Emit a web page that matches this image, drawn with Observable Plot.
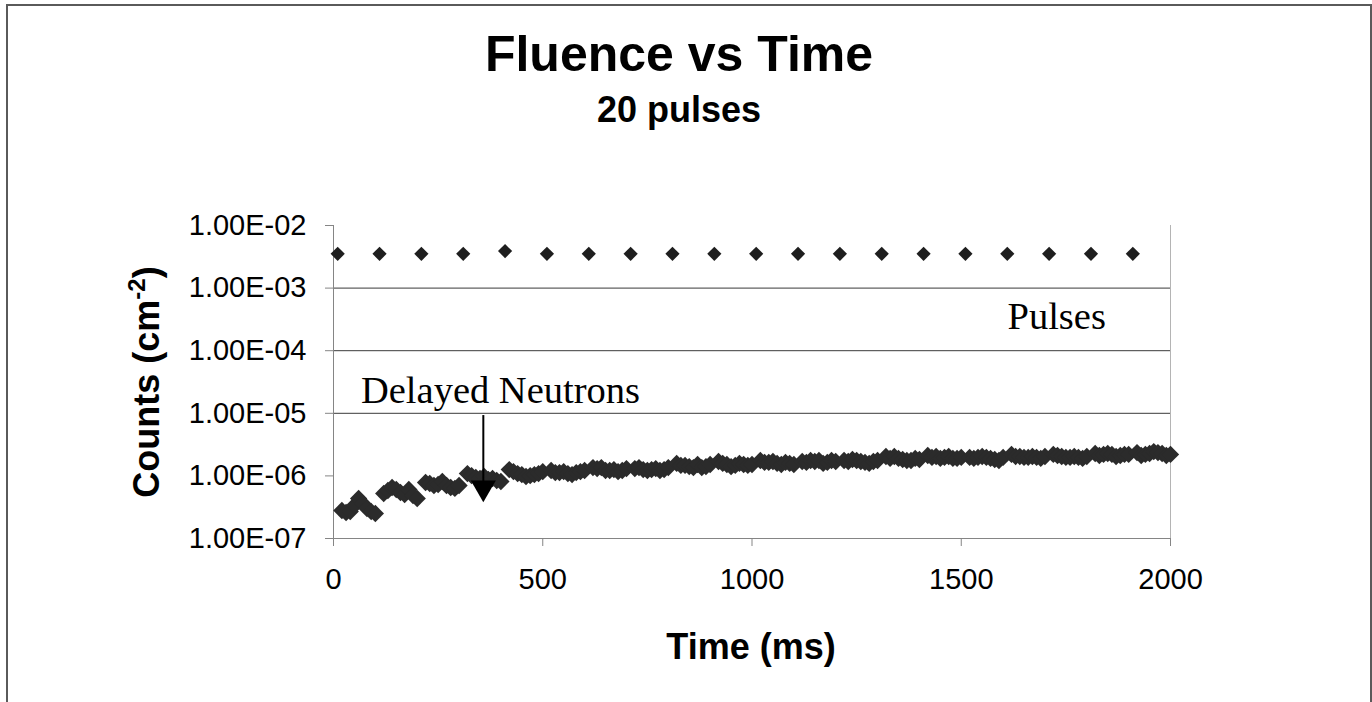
<!DOCTYPE html>
<html><head><meta charset="utf-8">
<script src="https://cdn.jsdelivr.net/npm/d3@7"></script>
<script src="https://cdn.jsdelivr.net/npm/@observablehq/plot@0.6"></script>
<style>
html,body{margin:0;padding:0;background:#fff;overflow:hidden;}
#wrap{position:relative;width:1372px;height:702px;overflow:hidden;}
#frame{position:absolute;left:6px;top:4px;width:1366px;height:760px;border:2px solid #5a5a5a;box-sizing:border-box;pointer-events:none;}
#header{position:relative;height:140px;font-family:"Liberation Sans",Arial,sans-serif;font-weight:bold;color:#000;}
#title{position:absolute;left:0;width:1358px;text-align:center;top:29px;font-size:50px;line-height:50px;}
#subtitle{position:absolute;left:0;width:1358px;text-align:center;top:92px;font-size:36px;line-height:36px;}
#chart svg{display:block;}
</style></head>
<body>
<div id="wrap">
  <div id="header"><div id="title">Fluence vs Time</div><div id="subtitle">20 pulses</div></div>
  <div id="chart"></div>
  <div id="frame"></div>
</div>
<script>
// ---- data ----
const pulseTimes = [10,110,210,310,410,510,610,710,810,910,1010,1110,1210,1310,1410,1510,1610,1710,1810,1910];
const pulseCounts = [3.53e-3,3.53e-3,3.53e-3,3.53e-3,3.9e-3,3.53e-3,3.53e-3,3.53e-3,3.53e-3,3.53e-3,3.53e-3,3.53e-3,3.53e-3,3.53e-3,3.53e-3,3.53e-3,3.53e-3,3.53e-3,3.53e-3,3.53e-3];

const delayedTimes = [
  20,30,40,50,60,70,80,90,100,
  120,130,140,150,160,170,180,190,200,
  220,230,240,250,260,270,280,290,300,
  320,330,340,350,360,370,380,390,400,
  420,430,440,450,460,470,480,490,500,
  520,530,540,550,560,570,580,590,600,
  620,630,640,650,660,670,680,690,700,
  720,730,740,750,760,770,780,790,800,
  820,830,840,850,860,870,880,890,900,
  920,930,940,950,960,970,980,990,1000,
  1020,1030,1040,1050,1060,1070,1080,1090,1100,
  1120,1130,1140,1150,1160,1170,1180,1190,1200,
  1220,1230,1240,1250,1260,1270,1280,1290,1300,
  1320,1330,1340,1350,1360,1370,1380,1390,1400,
  1420,1430,1440,1450,1460,1470,1480,1490,1500,
  1520,1530,1540,1550,1560,1570,1580,1590,1600,
  1620,1630,1640,1650,1660,1670,1680,1690,1700,
  1720,1730,1740,1750,1760,1770,1780,1790,1800,
  1820,1830,1840,1850,1860,1870,1880,1890,1900,
  1920,1930,1940,1950,1960,1970,1980,1990,2000];
const delayedCounts = [
  2.80e-7,2.60e-7,2.70e-7,3.37e-7,4.36e-7,3.62e-7,3.01e-7,2.70e-7,2.51e-7,
  5.24e-7,5.85e-7,6.53e-7,6.07e-7,5.43e-7,5.05e-7,6.07e-7,4.86e-7,4.36e-7,
  7.85e-7,7.57e-7,7.03e-7,7.29e-7,8.14e-7,7.03e-7,6.53e-7,6.30e-7,7.03e-7,
  1.09e-6,1.01e-6,9.42e-7,9.08e-7,9.77e-7,8.75e-7,9.08e-7,8.45e-7,8.14e-7,
  1.26e-6,1.17e-6,1.09e-6,1.05e-6,9.77e-7,1.01e-6,1.05e-6,1.09e-6,1.17e-6,
  1.22e-6,1.13e-6,1.13e-6,1.17e-6,1.09e-6,1.05e-6,1.13e-6,1.17e-6,1.22e-6,
  1.36e-6,1.31e-6,1.36e-6,1.22e-6,1.22e-6,1.26e-6,1.17e-6,1.22e-6,1.31e-6,
  1.31e-6,1.36e-6,1.26e-6,1.22e-6,1.26e-6,1.31e-6,1.22e-6,1.26e-6,1.36e-6,
  1.58e-6,1.47e-6,1.47e-6,1.41e-6,1.36e-6,1.52e-6,1.36e-6,1.41e-6,1.52e-6,
  1.70e-6,1.58e-6,1.52e-6,1.41e-6,1.47e-6,1.58e-6,1.52e-6,1.47e-6,1.52e-6,
  1.76e-6,1.64e-6,1.64e-6,1.70e-6,1.58e-6,1.52e-6,1.64e-6,1.58e-6,1.52e-6,
  1.70e-6,1.64e-6,1.76e-6,1.70e-6,1.76e-6,1.58e-6,1.64e-6,1.76e-6,1.70e-6,
  1.76e-6,1.70e-6,1.83e-6,1.76e-6,1.70e-6,1.64e-6,1.58e-6,1.70e-6,1.76e-6,
  2.04e-6,1.90e-6,2.04e-6,1.90e-6,1.83e-6,1.76e-6,1.76e-6,1.90e-6,1.83e-6,
  2.12e-6,1.97e-6,2.04e-6,1.90e-6,1.97e-6,2.04e-6,1.90e-6,1.90e-6,1.97e-6,
  1.97e-6,1.90e-6,1.97e-6,2.04e-6,1.97e-6,1.90e-6,1.83e-6,1.76e-6,1.97e-6,
  2.20e-6,2.04e-6,2.04e-6,1.97e-6,1.97e-6,2.04e-6,1.97e-6,1.90e-6,2.04e-6,
  2.20e-6,2.12e-6,2.04e-6,1.97e-6,1.97e-6,2.04e-6,1.97e-6,1.90e-6,2.04e-6,
  2.28e-6,2.12e-6,2.20e-6,2.28e-6,2.20e-6,2.04e-6,2.12e-6,2.20e-6,2.20e-6,
  2.36e-6,2.12e-6,2.20e-6,2.28e-6,2.45e-6,2.36e-6,2.28e-6,2.12e-6,2.20e-6];

const xTicks = [0,500,1000,1500,2000];
const yTicks = [1e-7,1e-6,1e-5,1e-4,1e-3,1e-2];
const yTickLabels = ["1.00E-07","1.00E-06","1.00E-05","1.00E-04","1.00E-03","1.00E-02"];
const gridValues = [1e-5,1e-4,1e-3];

const annLabels = ["Pulses","Delayed Neutrons"];
const annTimes = [1728,399];
const annCounts = [3.52e-4,2.31e-5];

const arrowTime = [358];
const arrowFrom = [9.2e-6];
const arrowTo = [7.0e-7];
const arrowHead = [6.45e-7];

// ---- tables ----
const pulses = pulseTimes.map((t,i)=>({t, c:pulseCounts[i]}));
const delayed = delayedTimes.map((t,i)=>({t, c:delayedCounts[i]}));
const notes = annLabels.map((s,i)=>({s, t:annTimes[i], c:annCounts[i]}));
const arrows = arrowTime.map((t,i)=>({t, y1:arrowFrom[i], y2:arrowTo[i], h:arrowHead[i]}));

const chart = Plot.plot({
  width: 1372, height: 562,
  marginLeft: 333, marginRight: 202, marginTop: 85, marginBottom: 164,
  x: {domain: [0, 2000]},
  y: {type: "log", domain: [1e-7, 1e-2]},
  style: {fontFamily: "'Liberation Sans', Arial, sans-serif", fontSize: "29px", color: "#000", background: "#fff", overflow: "visible"},
  marks: [
    Plot.ruleY(gridValues, {stroke: "#3a3a3a", strokeWidth: 1}),
    Plot.ruleX([xTicks[xTicks.length-1]], {y1: yTicks[0], y2: yTicks[yTicks.length-1], stroke: "#b4b4b4"}),
    Plot.ruleX([xTicks[0]], {y1: yTicks[0], y2: yTicks[yTicks.length-1], stroke: "#858585"}),
    Plot.ruleY([yTicks[0]], {x1: xTicks[0], x2: xTicks[xTicks.length-1], stroke: "#858585"}),
    Plot.axisY({ticks: yTicks, tickFormat: d => yTickLabels[yTicks.indexOf(d)], tickSize: 8, tickPadding: 19, stroke: "#858585", fill: "#000", label: null, fontSize: 29}),
    Plot.axisX({ticks: xTicks, tickFormat: d => String(d), tickSize: 8, tickPadding: 22, stroke: "#858585", fill: "#000", label: null, fontSize: 29}),
    Plot.dot(delayed, {x: "t", y: "c", symbol: "diamond2", r: 7.8, fill: "#2b2b2b", stroke: "none"}),
    Plot.dot(pulses, {x: "t", y: "c", symbol: "diamond2", r: 6.4, fill: "#1e1e1e", stroke: "none"}),
    Plot.ruleX(arrows, {x: "t", y1: "y1", y2: "y2", stroke: "#000", strokeWidth: 2}),
    Plot.dot(arrows, {x: "t", y: "h", symbol: "triangle", rotate: 180, r: 9.3, fill: "#000", stroke: "none"}),
    Plot.text(notes, {x: "t", y: "c", text: "s", fontFamily: "'Liberation Serif', 'Times New Roman', serif", fontSize: 38.5, fill: "#000"})
  ]
});
document.getElementById("chart").appendChild(chart);

const svg = d3.select(chart);
svg.append("text")
  .attr("x", 751).attr("y", 519)
  .attr("text-anchor", "middle")
  .attr("font-size", 36).attr("font-weight", "bold").attr("fill", "#000")
  .text("Time (ms)");
const yl = svg.append("text")
  .attr("transform", "translate(159,242) rotate(-90)")
  .attr("text-anchor", "middle")
  .attr("font-size", 36).attr("font-weight", "bold").attr("fill", "#000");
yl.append("tspan").text("Counts (cm");
yl.append("tspan").attr("font-size", 24).attr("dy", -14).text("-2");
yl.append("tspan").attr("dy", 14).text(")");
</script>
</body></html>
